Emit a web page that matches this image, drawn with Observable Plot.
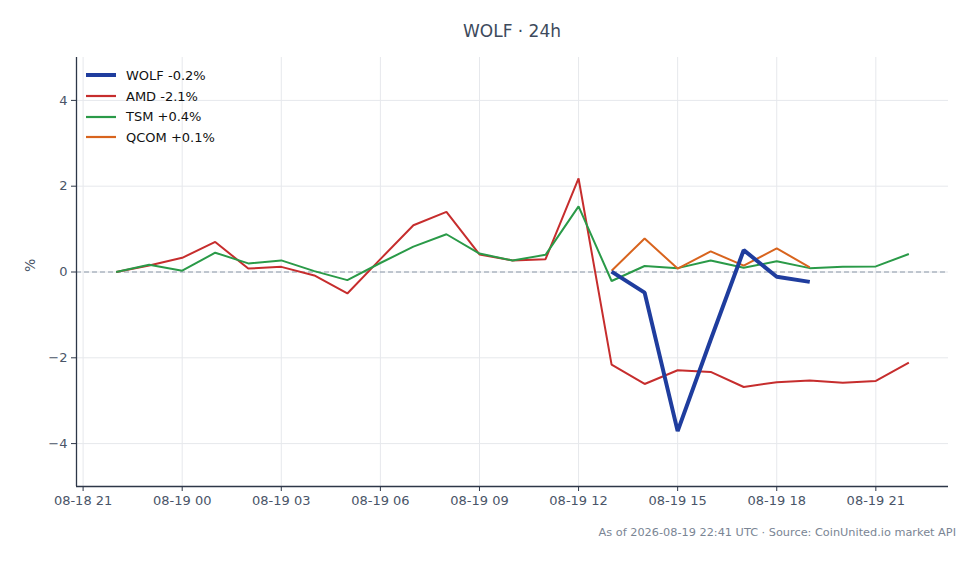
<!DOCTYPE html>
<html>
<head>
<meta charset="utf-8">
<script src="https://cdn.jsdelivr.net/npm/d3@7"></script>
<script src="https://cdn.jsdelivr.net/npm/@observablehq/plot@0.6"></script>
<style>
  html, body { margin: 0; padding: 0; background: #fff; }
  body { width: 980px; height: 564px; position: relative; font-family: "DejaVu Sans", sans-serif; overflow: hidden; }
  #title { height: 46px; box-sizing: border-box; padding-top: 23px; font-size: 17px; line-height: 17px; color: #3d4a5c; text-align: center; padding-left: 44px; }
  #chart { position: relative; height: 480px; }
  #caption { font-size: 11.3px; line-height: 14px; color: #7a8594; text-align: right; padding-right: 24px; }
  #legend { position: absolute; left: 86px; top: 19px; font-size: 13px; color: #111; }
  .row { display: flex; align-items: center; height: 20.7px; }
  .sw { width: 30px; margin-right: 10px; }
</style>
</head>
<body>
<div id="title">WOLF · 24h</div>
<div id="chart"><div id="legend"></div></div>
<div id="caption">As of 2026-08-19 22:41 UTC · Source: CoinUnited.io market API</div>
<script>
const times = [
  "2026-08-18T22:00Z","2026-08-18T23:00Z","2026-08-19T00:00Z","2026-08-19T01:00Z","2026-08-19T02:00Z",
  "2026-08-19T03:00Z","2026-08-19T04:00Z","2026-08-19T05:00Z","2026-08-19T06:00Z","2026-08-19T07:00Z",
  "2026-08-19T08:00Z","2026-08-19T09:00Z","2026-08-19T10:00Z","2026-08-19T11:00Z","2026-08-19T12:00Z",
  "2026-08-19T13:00Z","2026-08-19T14:00Z","2026-08-19T15:00Z","2026-08-19T16:00Z","2026-08-19T17:00Z",
  "2026-08-19T18:00Z","2026-08-19T19:00Z","2026-08-19T20:00Z","2026-08-19T21:00Z","2026-08-19T22:00Z"
];
const wolf = [null,null,null,null,null,null,null,null,null,null,null,null,null,null,null,
  0.01,-0.48,-3.71,-1.58,0.51,-0.11,-0.23,null,null,null];
const amd = [0,0.15,0.33,0.70,0.08,0.12,-0.08,-0.50,0.30,1.09,1.40,0.41,0.27,0.30,2.18,
  -2.16,-2.61,-2.29,-2.33,-2.68,-2.57,-2.53,-2.58,-2.54,-2.11];
const tsm = [0,0.17,0.03,0.45,0.20,0.27,0.02,-0.19,0.21,0.59,0.88,0.43,0.27,0.40,1.53,
  -0.21,0.14,0.09,0.27,0.10,0.25,0.09,0.12,0.13,0.42];
const qcom = [null,null,null,null,null,null,null,null,null,null,null,null,null,null,null,
  0.03,0.78,0.08,0.48,0.15,0.55,0.11,null,null,null];

const seriesNames = ["WOLF", "AMD", "TSM", "QCOM"];
const seriesLabels = ["WOLF -0.2%", "AMD -2.1%", "TSM +0.4%", "QCOM +0.1%"];
const seriesColors = ["#1f3d9e", "#c62d2d", "#2a9a48", "#d8641e"];
const seriesWidths = [4, 2, 2, 2];
const seriesValues = [wolf, amd, tsm, qcom];
const yTicks = [-4, -2, 0, 2, 4];
const yLabel = "%";
const xDomain = ["2026-08-18T20:48Z", "2026-08-19T23:12Z"];
const yDomain = [-5, 5];

const dates = times.map(t => new Date(t));
const xd = xDomain.map(t => new Date(t));
function rows(i) {
  return dates.map((d, k) => ({t: d, v: seriesValues[i][k]})).filter(r => r.v !== null);
}
const drawOrder = [1, 2, 3, 0];
const fmt = d => d < 0 ? "\u2212" + Math.abs(d) : String(d);

const plot = Plot.plot({
  width: 980,
  height: 480,
  marginLeft: 76,
  marginRight: 32,
  marginTop: 11,
  marginBottom: 40,
  style: {fontFamily: "DejaVu Sans, sans-serif", fontSize: "13px", color: "#4a5568", background: "#fff"},
  x: {type: "utc", domain: xd},
  y: {domain: yDomain},
  marks: [
    Plot.gridX(d3.utcHour.every(3).range(xd[0], xd[1]), {stroke: "#e6e8ec", strokeOpacity: 1}),
    Plot.gridY(yTicks, {stroke: "#e6e8ec", strokeOpacity: 1}),
    Plot.ruleY([0], {stroke: "#8a98a8", strokeDasharray: "5,3", strokeWidth: 1}),
    ...drawOrder.map(i => Plot.line(rows(i), {x: "t", y: "v", stroke: seriesColors[i], strokeWidth: seriesWidths[i], strokeLinejoin: "miter", strokeLinecap: "butt"})),
    Plot.axisX({ticks: d3.utcHour.every(3), tickFormat: d3.utcFormat("%m-%d %H"), tickSize: 5, tickPadding: 4, label: null, stroke: "#2d3748"}),
    Plot.axisY({ticks: yTicks, tickFormat: fmt, tickSize: 5, tickPadding: 4, label: null, stroke: "#2d3748"}),
    Plot.text([yLabel], {frameAnchor: "left", dx: -46, rotate: -90, fontSize: 14, fill: "#4a5568"}),
    Plot.ruleX([xd[0]], {stroke: "#2d3748", strokeWidth: 1.3}),
    Plot.ruleY([yDomain[0]], {stroke: "#2d3748", strokeWidth: 1.3})
  ]
});
document.getElementById("chart").insertBefore(plot, document.getElementById("legend"));

const leg = document.getElementById("legend");
seriesNames.forEach((n, i) => {
  const row = document.createElement("div");
  row.className = "row";
  row.innerHTML = `<svg class="sw" width="30" height="6"><line x1="0" x2="30" y1="3" y2="3" stroke="${seriesColors[i]}" stroke-width="${seriesWidths[i] === 4 ? 4 : 2.2}"/></svg><span>${seriesLabels[i]}</span>`;
  leg.appendChild(row);
});
</script>
</body>
</html>
